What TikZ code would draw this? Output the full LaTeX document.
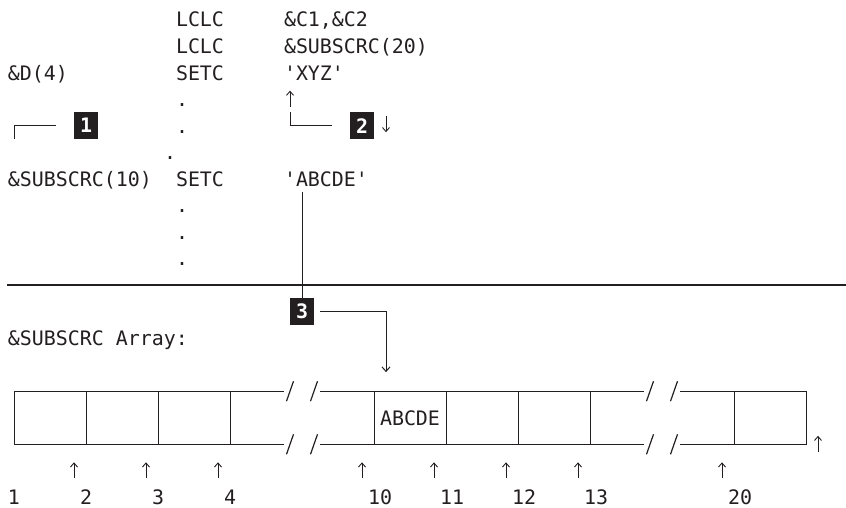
\documentclass[tikz,border=0pt]{standalone}
\usepackage{fontspec}
\setmonofont{DejaVu Sans Mono}
\usetikzlibrary{arrows.meta,calc}
\definecolor{ink}{RGB}{35,31,32}
\newcommand\colx[1]{(14+12*(#1))}
\newcommand\colw[1]{(8+12*(#1))}
\newcommand\rowb[1]{(27+26.55*(#1))}
\newcommand\rowl[1]{(19.5+26.55*(#1))}
\begin{document}
\begin{tikzpicture}[x=1pt,y=-1pt,
  txt/.style={anchor=base west,inner sep=0pt,outer sep=0pt,text=ink,font=\ttfamily\fontsize{19.93}{24}\selectfont},
  ln/.style={draw=ink,line width=1pt,line join=miter},
  sepline/.style={draw=ink,line width=1.5pt},
  arr/.style={draw=ink,line width=0.9pt,-{Straight Barb[length=4pt,width=7pt]}},
  callout/.style={fill=ink,text=white,inner sep=0pt,outer sep=0pt,minimum width=24pt,minimum height=26.5pt,font=\ttfamily\bfseries\fontsize{19.93}{24}\selectfont},
  slash/.style={draw=ink,line width=1.2pt}]
\useasboundingbox (0,0) rectangle (846,508);
% --- source statements ---
\node[txt] (op0) at ({\colw{14}},{\rowb{0}}) {LCLC};
\node[txt] (arg0) at ({\colw{23}},{\rowb{0}}) {\&C1,\&C2};
\node[txt] (op1) at ({\colw{14}},{\rowb{1}}) {LCLC};
\node[txt] (arg1) at ({\colw{23}},{\rowb{1}}) {\&SUBSCRC(20)};
\node[txt] (lab2) at ({\colw{0}},{\rowb{2}}) {\&D(4)};
\node[txt] (op2) at ({\colw{14}},{\rowb{2}}) {SETC};
\node[txt] (xyz) at ({\colw{23}},{\rowb{2}}) {'XYZ'};
\node[txt] (d3) at ({\colw{14}},{\rowb{3}}) {.};
\node[txt] (d4) at ({\colw{14}},{\rowb{4}}) {.};
\node[txt] (d5) at ({\colw{13}},{\rowb{5}}) {.};
\node[txt] (lab6) at ({\colw{0}},{\rowb{6}}) {\&SUBSCRC(10)};
\node[txt] (op6) at ({\colw{14}},{\rowb{6}}) {SETC};
\node[txt] (abc) at ({\colw{23}},{\rowb{6}}) {'ABCDE'};
\node[txt] (d7) at ({\colw{14}},{\rowb{7}}) {.};
\node[txt] (d8) at ({\colw{14}},{\rowb{8}}) {.};
\node[txt] (d9) at ({\colw{14}},{\rowb{9}}) {.};
% --- callouts ---
\node[callout] (box1) at ({\colx{6}},{\rowl{4}}) {1};
\node[callout] (box2) at ({\colx{29}},{\rowl{4}}) {2};
\node[callout] (box3) at ({\colx{24}},{\rowl{11}}) {3};
\coordinate (c1foot) at ({\colx{0}},{\rowb{4}+5.5});
\coordinate (c2top) at ({\colx{23}},{\rowb{4}-21});
\coordinate (c3top) at ({\colx{24}},{\rowb{6}+5.5});
\coordinate (c3tip) at ({\colx{31}},{\rowb{13}});
\draw[ln] ($(box1.west)+(-18,0)$) -| (c1foot);
\draw[ln] ($(box2.west)+(-18,0)$) -| (c2top);
\draw[arr] ({\colx{23}},{\rowb{3}}) -- ({\colx{23}},{\rowb{3}-16});
\draw[arr] ({\colx{31}},{\rowb{4}-17}) -- ({\colx{31}},{\rowb{4}-1});
\draw[ln] (c3top) -- (box3.north);
\draw[ln,-{Straight Barb[length=4.5pt,width=8pt]}] ($(box3.east)+(6,0)$) -| (c3tip);
% --- separator ---
\draw[sepline] (7,{\rowl{10}}) -- (846,{\rowl{10}});
\node[txt] (arrlab) at ({\colw{0}},{\rowb{12}}) {\&SUBSCRC Array:};
% --- array ---
\draw[ln] (284,{\rowl{14}}) -- ({\colx{0}},{\rowl{14}}) -- ({\colx{0}},{\rowl{16}}) -- (284,{\rowl{16}});
\draw[ln] (680,{\rowl{14}}) -- ({\colx{66}},{\rowl{14}}) -- ({\colx{66}},{\rowl{16}}) -- (680,{\rowl{16}});
\foreach \yy in {14,16}{
  \draw[ln] (320,{\rowl{\yy}}) -- (644,{\rowl{\yy}});
  \foreach \c in {23,25,53,55}
    \draw[slash] ({\colx{\c}-3.5},{\rowl{\yy}+10}) -- ({\colx{\c}+3.5},{\rowl{\yy}-10});
}
\foreach \c in {6,12,18,30,36,42,48,60}
  \draw[ln] ({\colx{\c}},{\rowl{14}}) -- ({\colx{\c}},{\rowl{16}});
\node[txt] (cell10) at ({\colw{31}},{\rowb{15}}) {ABCDE};
\draw[arr] ({\colx{67}},{\rowb{16}}) -- ({\colx{67}},{\rowb{16}-16});
\foreach \c in {5,11,17,29,35,41,47,59}
  \draw[arr] ({\colx{\c}},{\rowb{17}}) -- ({\colx{\c}},{\rowb{17}-16});
\foreach \c/\n in {0/1,6/2,12/3,18/4,30/10,36/11,42/12,48/13,60/20}
  \node[txt] (n\n) at ({\colw{\c}},{\rowb{18}}) {\n};
\end{tikzpicture}
\end{document}
